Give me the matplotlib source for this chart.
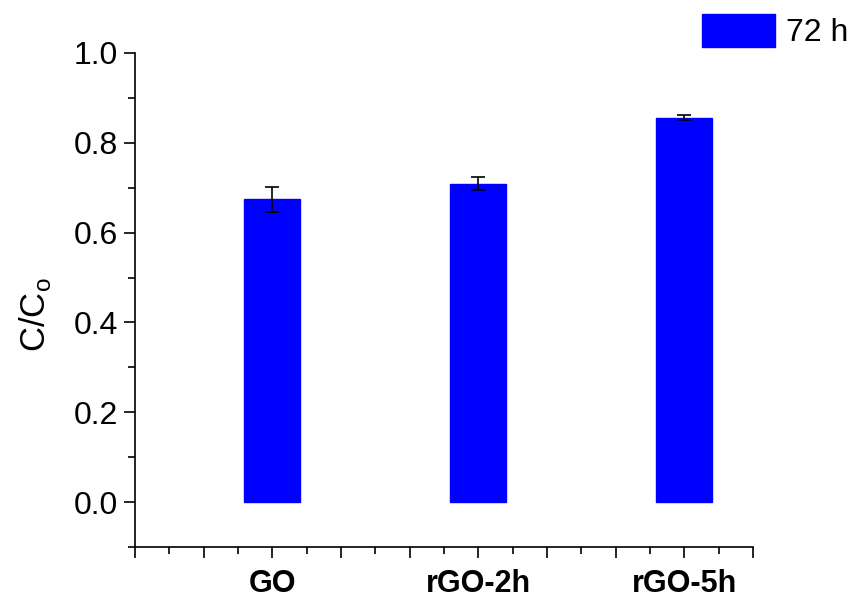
import matplotlib
matplotlib.use("Agg")
import matplotlib.pyplot as plt
from matplotlib.ticker import MultipleLocator

plt.rcParams['font.family'] = ['Liberation Sans', 'DejaVu Sans']

# Data
samples = ["GO", "rGO-2h", "rGO-5h"]
ratio = [0.674, 0.709, 0.856]
ratio_err = [0.027, 0.015, 0.006]
positions = [2, 5, 8]
series_label = "72 h"

fig = plt.figure(figsize=(8.52, 6.01), dpi=100)
ax = fig.add_axes([135 / 852, 1 - 547 / 601, 618 / 852, 494 / 601])

ax.bar(positions, ratio, width=0.82, color="#0000ff", edgecolor="#0000ff",
       label=series_label, zorder=2)
ax.errorbar(positions, ratio, yerr=ratio_err, fmt="none", ecolor="black",
            elinewidth=1.2, capsize=5, capthick=1.2, zorder=3)

ax.set_xlim(0, 9)
ax.set_ylim(-0.1, 1.0)

ticks = list(range(10))
tick_labels = ["" for _ in ticks]
for p, s in zip(positions, samples):
    tick_labels[p] = s
ax.set_xticks(ticks)
ax.set_xticklabels(tick_labels, fontsize=22, fontweight="bold")
ax.xaxis.set_minor_locator(MultipleLocator(0.5))

ax.set_yticks([0.0, 0.2, 0.4, 0.6, 0.8, 1.0])
ax.set_yticklabels(["0.0", "0.2", "0.4", "0.6", "0.8", "1.0"], fontsize=23)
ax.yaxis.set_minor_locator(MultipleLocator(0.1))

for side in ["top", "right"]:
    ax.spines[side].set_visible(False)
for side in ["left", "bottom"]:
    ax.spines[side].set_linewidth(1.2)

ax.tick_params(axis="both", which="major", direction="out", length=8, width=1.2)
ax.tick_params(axis="both", which="minor", direction="out", length=5, width=1.2)
ax.tick_params(axis="x", which="major", pad=8)
ax.tick_params(axis="y", which="major", pad=4)

ax.set_ylabel("C/C$_\\mathregular{o}$", fontsize=25)
ax.yaxis.set_label_coords(-0.133, 0.47)

fig.legend(loc="center left", bbox_to_anchor=(702 / 852, 1 - 31 / 601),
           frameon=False, fontsize=23, handlelength=2.3, handleheight=1.2,
           handletextpad=0.33, borderpad=0, borderaxespad=0)

fig.savefig("out.png", dpi=100)
